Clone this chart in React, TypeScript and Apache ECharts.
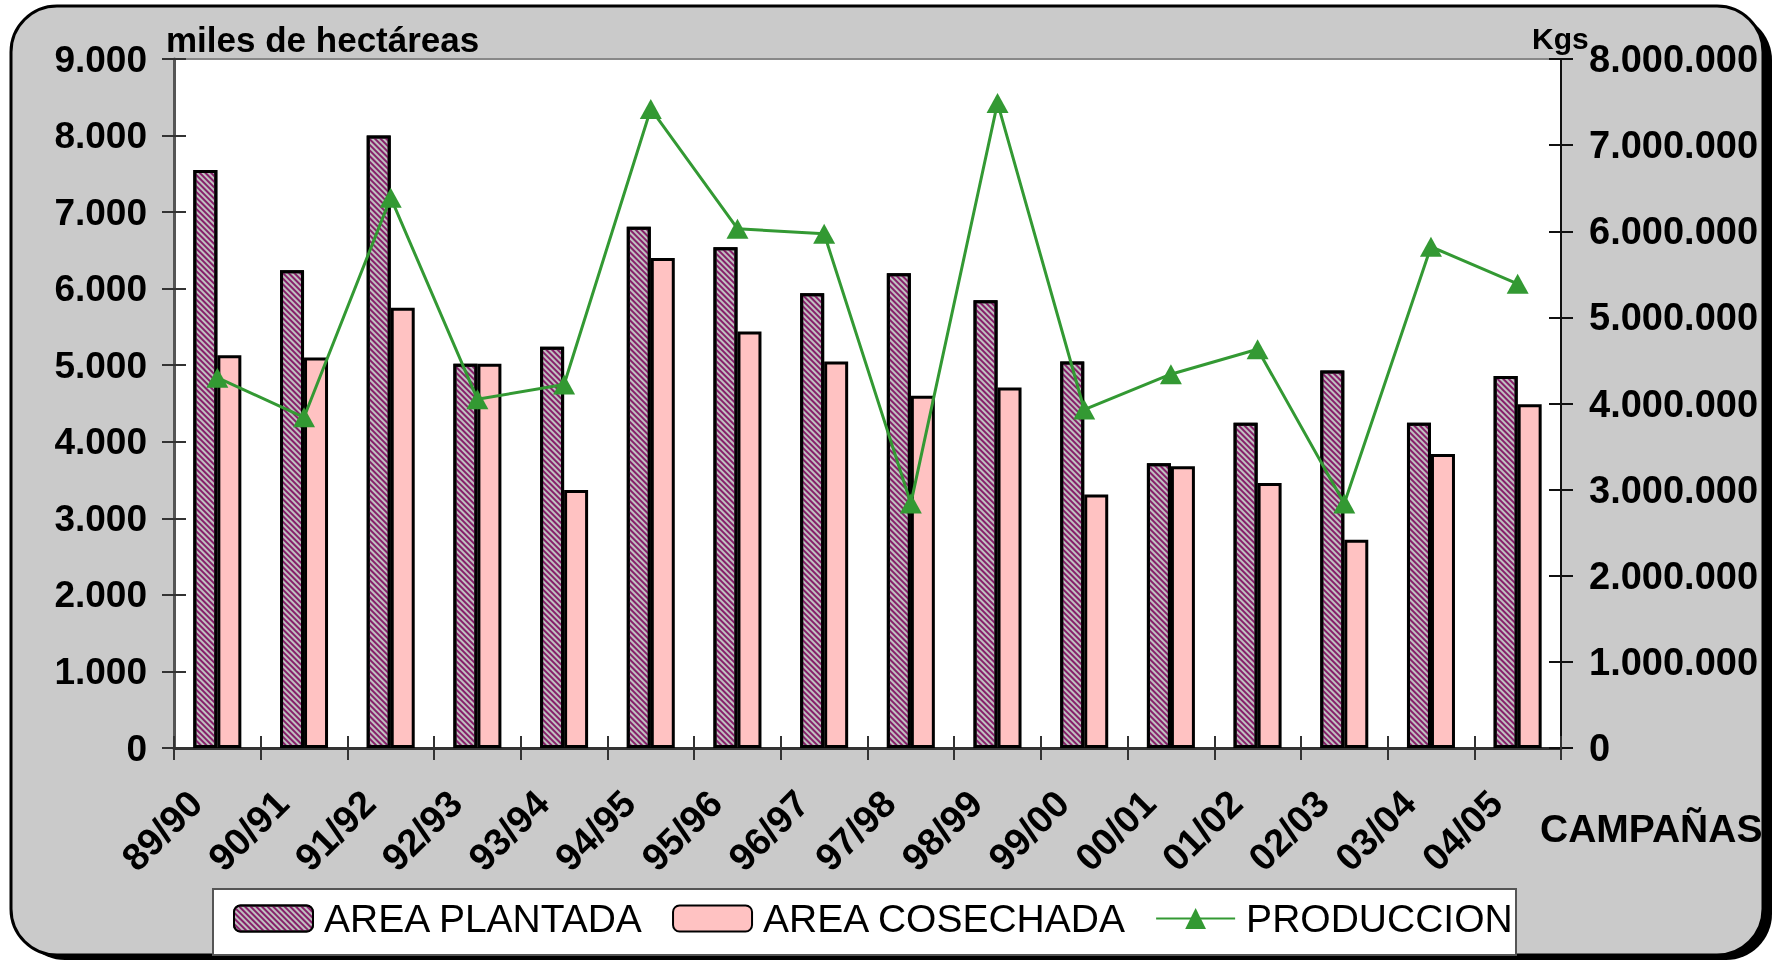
import React, { useEffect, useRef } from "react";
import * as echarts from "echarts";

const categories = ["89/90", "90/91", "91/92", "92/93", "93/94", "94/95", "95/96", "96/97", "97/98", "98/99", "99/00", "00/01", "01/02", "02/03", "03/04", "04/05"];
const areaPlantada = [7550, 6240, 8000, 5020, 5240, 6810, 6540, 5940, 6200, 5850, 5050, 3720, 4250, 4930, 4250, 4860];
const areaCosechada = [5130, 5100, 5750, 5020, 3370, 6400, 5440, 5050, 4600, 4710, 3310, 3680, 3460, 2720, 3840, 4490];
const produccion = [4300000, 3840000, 6390000, 4050000, 4220000, 7420000, 6030000, 5970000, 2840000, 7490000, 3930000, 4340000, 4630000, 2840000, 5820000, 5390000];
const seriesNames = ["AREA PLANTADA", "AREA COSECHADA", "PRODUCCION"];
const leftAxis = { min: 0, max: 9000, interval: 1000 };
const rightAxis = { min: 0, max: 8000000, interval: 1000000 };

const FONT = "'Liberation Sans', Arial, Helvetica, sans-serif";

function fmt(v: number): string {
  return String(v).replace(/\B(?=(\d{3})+(?!\d))/g, ".");
}

export default function App() {
  const ref = useRef<HTMLDivElement>(null);
  useEffect(() => {
    if (!ref.current) return;
    const chart = echarts.init(ref.current, null, { renderer: "svg" });
    const labelStyle = { color: "#000", fontFamily: FONT, fontWeight: "bold" as const };
    const option: any = {
      animation: false,
      backgroundColor: "transparent",
      graphic: [
        { type: "rect", z: -20, shape: { x: 19, y: 14, width: 1753, height: 946, r: 46 }, style: { fill: "#000" } },
        { type: "rect", z: -19, shape: { x: 11, y: 6, width: 1752, height: 949, r: 46 }, style: { fill: "#cacaca", stroke: "#000", lineWidth: 3 } },
        { type: "rect", z: 1, shape: { x: 213, y: 889, width: 1303, height: 66 }, style: { fill: "#fff", stroke: "#555", lineWidth: 2 } },
        { type: "text", z: 5, x: 166, y: 39, style: { text: "miles de hectáreas", font: `bold 35px ${FONT}`, fill: "#000", verticalAlign: "middle", align: "left" } },
        { type: "text", z: 5, x: 1532, y: 38, style: { text: "Kgs", font: `bold 30px ${FONT}`, fill: "#000", verticalAlign: "middle", align: "left" } },
        { type: "text", z: 5, x: 1540, y: 828, style: { text: "CAMPAÑAS", font: `bold 39px ${FONT}`, fill: "#000", verticalAlign: "middle", align: "left" } },
      ],
      grid: {
        left: 174, right: 213, top: 59, bottom: 213,
        show: true, backgroundColor: "#fff", borderColor: "#888", borderWidth: 2,
      },
      legend: {
        left: 228, top: 894,
        itemWidth: 79, itemHeight: 26, itemGap: 28,
        textStyle: { fontFamily: FONT, fontSize: 39, color: "#000", padding: [0, 0, 0, 6] },
        data: seriesNames,
      },
      xAxis: [
        {
          type: "category", data: categories, position: "bottom",
          axisLine: { lineStyle: { color: "#333", width: 3 } },
          axisTick: { show: true, length: 12, lineStyle: { color: "#333", width: 2 } },
          axisLabel: { ...labelStyle, fontSize: 38, rotate: 45, margin: 27, interval: 0, padding: [0, 31, 0, 0] },
          splitLine: { show: false },
        },
        {
          type: "category", data: categories, position: "bottom",
          axisLine: { show: false },
          axisTick: { show: true, inside: true, length: 12, lineStyle: { color: "#333", width: 2 } },
          axisLabel: { show: false },
          splitLine: { show: false },
        },
      ],
      yAxis: [
        {
          type: "value", position: "left", ...leftAxis,
          axisLine: { show: true, lineStyle: { color: "#555", width: 3 } },
          axisTick: { show: true, length: 12, lineStyle: { color: "#333", width: 2 } },
          axisLabel: { ...labelStyle, fontSize: 37, margin: 27, formatter: (v: number) => fmt(v) },
          splitLine: { show: false },
        },
        {
          type: "value", position: "right", ...rightAxis,
          axisLine: { show: true, lineStyle: { color: "#111", width: 2 } },
          axisTick: { show: true, length: 12, lineStyle: { color: "#111", width: 2 } },
          axisLabel: { ...labelStyle, fontSize: 38, margin: 28, formatter: (v: number) => fmt(v) },
          splitLine: { show: false },
        },
        {
          type: "value", position: "left", ...leftAxis,
          axisLine: { show: false },
          axisTick: { show: true, inside: true, length: 12, lineStyle: { color: "#333", width: 2 } },
          axisLabel: { show: false },
          splitLine: { show: false },
        },
        {
          type: "value", position: "right", ...rightAxis,
          axisLine: { show: false },
          axisTick: { show: true, inside: true, length: 12, lineStyle: { color: "#111", width: 2 } },
          axisLabel: { show: false },
          splitLine: { show: false },
        },
      ],
      series: [
        {
          name: seriesNames[0], type: "bar", data: areaPlantada, xAxisIndex: 0, yAxisIndex: 0,
          barWidth: 24, barGap: "0%",
          itemStyle: {
            color: "#c0c0c0", borderColor: "#000", borderWidth: 3,
            decal: { symbol: "rect", symbolSize: 1, color: "#86206a", dashArrayX: [1, 0], dashArrayY: [2, 2], rotation: Math.PI / 4 },
          },
        },
        {
          name: seriesNames[1], type: "bar", data: areaCosechada, xAxisIndex: 0, yAxisIndex: 0,
          barWidth: 24, barGap: "0%",
          itemStyle: { color: "#ffc2c2", borderColor: "#000", borderWidth: 3 },
        },
        {
          name: seriesNames[2], type: "line", data: produccion, xAxisIndex: 0, yAxisIndex: 1, z: 5,
          color: "#339933",
          lineStyle: { color: "#339933", width: 3 },
          itemStyle: { color: "#339933" },
          symbol: "triangle", symbolSize: [22, 20], showSymbol: true,
        },
      ],
    };
    chart.setOption(option);
    return () => chart.dispose();
  }, []);
  return <div ref={ref} style={{ position: "fixed", left: 0, top: 0, width: 1774, height: 961 }} />;
}
